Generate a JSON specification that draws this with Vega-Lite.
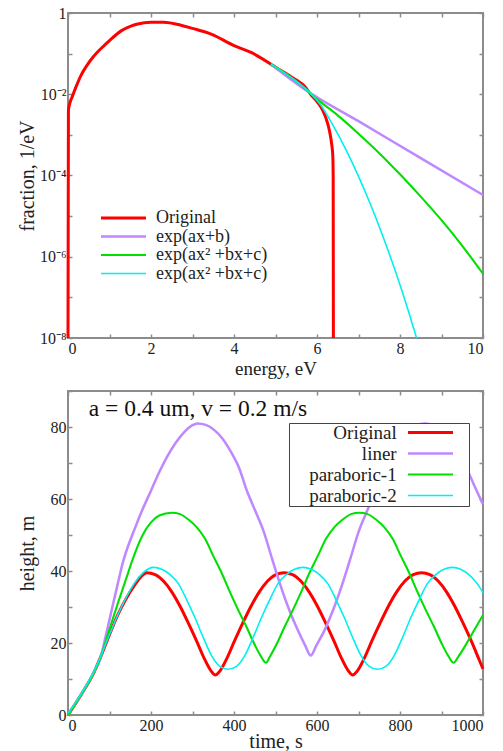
{
  "$schema": "https://vega.github.io/schema/vega-lite/v6.json",
  "padding": {"left": 16, "top": 4, "right": 5, "bottom": 5},
  "background": "white",
  "config": {
    "font": "Liberation Serif",
    "view": {"stroke": "#8c8c8c", "strokeWidth": 2},
    "axis": {
      "grid": false, "domain": false,
      "tickColor": "#8c8c8c", "tickSize": -4, "tickWidth": 1.5,
      "labelFont": "Liberation Serif", "labelFontSize": 16, "labelColor": "#222",
      "titleFont": "Liberation Serif", "titleFontSize": 20, "titleFontWeight": "normal", "titleColor": "#222",
      "labelPadding": 6
    },
    "legend": {"labelFont": "Liberation Serif", "labelColor": "#222"}
  },
  "datasets": {
    "top": [
      {"E": 0, "f": 1e-8, "s": "Original"},
      {"E": 0.01, "f": 0.00398, "s": "Original"},
      {"E": 0.05, "f": 0.00631, "s": "Original"},
      {"E": 0.11, "f": 0.00912, "s": "Original"},
      {"E": 0.2, "f": 0.0158, "s": "Original"},
      {"E": 0.31, "f": 0.0288, "s": "Original"},
      {"E": 0.45, "f": 0.0501, "s": "Original"},
      {"E": 0.6, "f": 0.0813, "s": "Original"},
      {"E": 0.87, "f": 0.158, "s": "Original"},
      {"E": 1.0, "f": 0.209, "s": "Original"},
      {"E": 1.28, "f": 0.363, "s": "Original"},
      {"E": 1.5, "f": 0.468, "s": "Original"},
      {"E": 1.68, "f": 0.537, "s": "Original"},
      {"E": 2.0, "f": 0.589, "s": "Original"},
      {"E": 2.3, "f": 0.589, "s": "Original"},
      {"E": 2.72, "f": 0.501, "s": "Original"},
      {"E": 3.0, "f": 0.417, "s": "Original"},
      {"E": 3.45, "f": 0.302, "s": "Original"},
      {"E": 4.0, "f": 0.158, "s": "Original"},
      {"E": 4.41, "f": 0.107, "s": "Original"},
      {"E": 4.89, "f": 0.055, "s": "Original"},
      {"E": 5.01, "f": 0.0457, "s": "Original"},
      {"E": 5.3, "f": 0.0302, "s": "Original"},
      {"E": 5.53, "f": 0.0214, "s": "Original"},
      {"E": 5.69, "f": 0.0162, "s": "Original"},
      {"E": 5.86, "f": 0.00955, "s": "Original"},
      {"E": 6.0, "f": 0.00661, "s": "Original"},
      {"E": 6.14, "f": 0.00398, "s": "Original"},
      {"E": 6.22, "f": 0.00251, "s": "Original"},
      {"E": 6.3, "f": 0.00126, "s": "Original"},
      {"E": 6.35, "f": 0.000631, "s": "Original"},
      {"E": 6.38, "f": 0.000316, "s": "Original"},
      {"E": 6.39, "f": 0.0001, "s": "Original"},
      {"E": 6.395, "f": 1e-8, "s": "Original"},
      {"E": 4.89, "f": 0.055, "s": "exp(ax+b)"},
      {"E": 5.69, "f": 0.0135, "s": "exp(ax+b)"},
      {"E": 7.0, "f": 0.00217, "s": "exp(ax+b)"},
      {"E": 8.5, "f": 0.000267, "s": "exp(ax+b)"},
      {"E": 10, "f": 3.31e-5, "s": "exp(ax+b)"},
      {"E": 4.89, "f": 0.055, "s": "exp(ax² +bx+c)"},
      {"E": 5.5, "f": 0.0209, "s": "exp(ax² +bx+c)"},
      {"E": 6.0, "f": 0.00759, "s": "exp(ax² +bx+c)"},
      {"E": 6.5, "f": 0.00302, "s": "exp(ax² +bx+c)"},
      {"E": 7.0, "f": 0.00107, "s": "exp(ax² +bx+c)"},
      {"E": 7.5, "f": 0.000355, "s": "exp(ax² +bx+c)"},
      {"E": 8.0, "f": 0.000107, "s": "exp(ax² +bx+c)"},
      {"E": 8.5, "f": 3.02e-5, "s": "exp(ax² +bx+c)"},
      {"E": 9.0, "f": 7.94e-6, "s": "exp(ax² +bx+c)"},
      {"E": 9.5, "f": 1.86e-6, "s": "exp(ax² +bx+c)"},
      {"E": 10, "f": 3.8e-7, "s": "exp(ax² +bx+c)"},
      {"E": 4.89, "f": 0.055, "s": "exp(ax² +bx+c) "},
      {"E": 5.5, "f": 0.0209, "s": "exp(ax² +bx+c) "},
      {"E": 5.8, "f": 0.0117, "s": "exp(ax² +bx+c) "},
      {"E": 6.1, "f": 0.00525, "s": "exp(ax² +bx+c) "},
      {"E": 6.4, "f": 0.00162, "s": "exp(ax² +bx+c) "},
      {"E": 6.7, "f": 0.000427, "s": "exp(ax² +bx+c) "},
      {"E": 7.0, "f": 9.55e-5, "s": "exp(ax² +bx+c) "},
      {"E": 7.3, "f": 1.82e-5, "s": "exp(ax² +bx+c) "},
      {"E": 7.6, "f": 2.95e-6, "s": "exp(ax² +bx+c) "},
      {"E": 7.9, "f": 4.07e-7, "s": "exp(ax² +bx+c) "},
      {"E": 8.2, "f": 4.68e-8, "s": "exp(ax² +bx+c) "},
      {"E": 8.4, "f": 1e-8, "s": "exp(ax² +bx+c) "}
    ],
    "bottom": [
      {"t": 0, "h": 0, "s": "Original"}, {"t": 20, "h": 3.5, "s": "Original"}, {"t": 40, "h": 7.2, "s": "Original"}, {"t": 60, "h": 11.2, "s": "Original"},
      {"t": 80, "h": 16.5, "s": "Original"}, {"t": 100, "h": 22.3, "s": "Original"}, {"t": 120, "h": 27.8, "s": "Original"}, {"t": 140, "h": 32.3, "s": "Original"},
      {"t": 160, "h": 36.0, "s": "Original"}, {"t": 175, "h": 38.3, "s": "Original"}, {"t": 190, "h": 39.5, "s": "Original"}, {"t": 210, "h": 39.0, "s": "Original"},
      {"t": 230, "h": 37.2, "s": "Original"}, {"t": 250, "h": 34.2, "s": "Original"}, {"t": 270, "h": 30.2, "s": "Original"}, {"t": 290, "h": 25.5, "s": "Original"},
      {"t": 310, "h": 20.5, "s": "Original"}, {"t": 330, "h": 15.3, "s": "Original"}, {"t": 345, "h": 12.2, "s": "Original"}, {"t": 355, "h": 11.1, "s": "Original"},
      {"t": 366, "h": 12.2, "s": "Original"}, {"t": 381, "h": 15.3, "s": "Original"}, {"t": 401, "h": 20.5, "s": "Original"}, {"t": 421, "h": 25.5, "s": "Original"},
      {"t": 441, "h": 30.2, "s": "Original"}, {"t": 461, "h": 34.2, "s": "Original"}, {"t": 481, "h": 37.2, "s": "Original"}, {"t": 501, "h": 39.0, "s": "Original"},
      {"t": 521, "h": 39.5, "s": "Original"}, {"t": 541, "h": 39.0, "s": "Original"}, {"t": 561, "h": 37.2, "s": "Original"}, {"t": 581, "h": 34.2, "s": "Original"},
      {"t": 601, "h": 30.2, "s": "Original"}, {"t": 621, "h": 25.5, "s": "Original"}, {"t": 641, "h": 20.5, "s": "Original"}, {"t": 661, "h": 15.3, "s": "Original"},
      {"t": 676, "h": 12.2, "s": "Original"}, {"t": 686, "h": 11.1, "s": "Original"}, {"t": 697, "h": 12.2, "s": "Original"}, {"t": 712, "h": 15.3, "s": "Original"},
      {"t": 732, "h": 20.5, "s": "Original"}, {"t": 752, "h": 25.5, "s": "Original"}, {"t": 772, "h": 30.2, "s": "Original"}, {"t": 792, "h": 34.2, "s": "Original"},
      {"t": 812, "h": 37.2, "s": "Original"}, {"t": 832, "h": 39.0, "s": "Original"}, {"t": 852, "h": 39.5, "s": "Original"}, {"t": 872, "h": 39.0, "s": "Original"},
      {"t": 892, "h": 37.2, "s": "Original"}, {"t": 912, "h": 34.2, "s": "Original"}, {"t": 932, "h": 30.2, "s": "Original"}, {"t": 952, "h": 25.5, "s": "Original"},
      {"t": 972, "h": 20.5, "s": "Original"}, {"t": 992, "h": 15.0, "s": "Original"}, {"t": 1000, "h": 12.8, "s": "Original"},

      {"t": 0, "h": 0, "s": "liner"}, {"t": 20, "h": 3.5, "s": "liner"}, {"t": 40, "h": 7.2, "s": "liner"}, {"t": 60, "h": 11.3, "s": "liner"},
      {"t": 80, "h": 16.5, "s": "liner"}, {"t": 88, "h": 20.5, "s": "liner"}, {"t": 100, "h": 26.5, "s": "liner"}, {"t": 120, "h": 36.5, "s": "liner"},
      {"t": 132, "h": 42.3, "s": "liner"}, {"t": 140, "h": 45.3, "s": "liner"}, {"t": 160, "h": 51.5, "s": "liner"}, {"t": 180, "h": 57.2, "s": "liner"},
      {"t": 200, "h": 62.3, "s": "liner"}, {"t": 220, "h": 67.5, "s": "liner"}, {"t": 240, "h": 72.0, "s": "liner"}, {"t": 260, "h": 75.7, "s": "liner"},
      {"t": 280, "h": 78.6, "s": "liner"}, {"t": 300, "h": 80.5, "s": "liner"}, {"t": 312, "h": 81.0, "s": "liner"}, {"t": 332, "h": 80.6, "s": "liner"},
      {"t": 352, "h": 79.2, "s": "liner"}, {"t": 372, "h": 76.8, "s": "liner"}, {"t": 392, "h": 73.2, "s": "liner"}, {"t": 412, "h": 68.7, "s": "liner"},
      {"t": 432, "h": 62.0, "s": "liner"}, {"t": 452, "h": 56.5, "s": "liner"}, {"t": 472, "h": 50.8, "s": "liner"}, {"t": 492, "h": 43.3, "s": "liner"},
      {"t": 512, "h": 36.0, "s": "liner"}, {"t": 532, "h": 29.5, "s": "liner"}, {"t": 552, "h": 24.0, "s": "liner"}, {"t": 572, "h": 19.2, "s": "liner"},
      {"t": 585, "h": 16.5, "s": "liner"}, {"t": 598, "h": 19.2, "s": "liner"}, {"t": 620, "h": 24.0, "s": "liner"}, {"t": 640, "h": 29.5, "s": "liner"},
      {"t": 660, "h": 36.0, "s": "liner"}, {"t": 680, "h": 43.3, "s": "liner"}, {"t": 700, "h": 50.8, "s": "liner"}, {"t": 720, "h": 56.5, "s": "liner"},
      {"t": 740, "h": 62.0, "s": "liner"}, {"t": 760, "h": 68.7, "s": "liner"}, {"t": 780, "h": 73.2, "s": "liner"}, {"t": 800, "h": 76.8, "s": "liner"},
      {"t": 820, "h": 79.2, "s": "liner"}, {"t": 840, "h": 80.6, "s": "liner"}, {"t": 860, "h": 81.0, "s": "liner"}, {"t": 880, "h": 80.6, "s": "liner"},
      {"t": 900, "h": 79.2, "s": "liner"}, {"t": 920, "h": 76.8, "s": "liner"}, {"t": 940, "h": 73.2, "s": "liner"}, {"t": 960, "h": 68.7, "s": "liner"},
      {"t": 980, "h": 63.5, "s": "liner"}, {"t": 1000, "h": 58.5, "s": "liner"},

      {"t": 0, "h": 0, "s": "paraboric-1"}, {"t": 20, "h": 3.5, "s": "paraboric-1"}, {"t": 40, "h": 7.2, "s": "paraboric-1"}, {"t": 60, "h": 11.3, "s": "paraboric-1"},
      {"t": 80, "h": 16.5, "s": "paraboric-1"}, {"t": 95, "h": 22.0, "s": "paraboric-1"}, {"t": 120, "h": 31.0, "s": "paraboric-1"}, {"t": 140, "h": 37.8, "s": "paraboric-1"},
      {"t": 156, "h": 43.3, "s": "paraboric-1"}, {"t": 180, "h": 50.0, "s": "paraboric-1"}, {"t": 200, "h": 53.5, "s": "paraboric-1"}, {"t": 220, "h": 55.4, "s": "paraboric-1"},
      {"t": 250, "h": 56.2, "s": "paraboric-1"}, {"t": 270, "h": 55.8, "s": "paraboric-1"}, {"t": 290, "h": 54.3, "s": "paraboric-1"}, {"t": 310, "h": 52.2, "s": "paraboric-1"},
      {"t": 330, "h": 49.0, "s": "paraboric-1"}, {"t": 350, "h": 44.2, "s": "paraboric-1"}, {"t": 370, "h": 39.5, "s": "paraboric-1"}, {"t": 390, "h": 34.2, "s": "paraboric-1"},
      {"t": 410, "h": 29.2, "s": "paraboric-1"}, {"t": 430, "h": 24.5, "s": "paraboric-1"}, {"t": 450, "h": 19.5, "s": "paraboric-1"}, {"t": 465, "h": 16.3, "s": "paraboric-1"},
      {"t": 477, "h": 14.5, "s": "paraboric-1"}, {"t": 487, "h": 16.3, "s": "paraboric-1"}, {"t": 502, "h": 19.5, "s": "paraboric-1"}, {"t": 522, "h": 24.5, "s": "paraboric-1"},
      {"t": 542, "h": 29.2, "s": "paraboric-1"}, {"t": 562, "h": 34.2, "s": "paraboric-1"}, {"t": 582, "h": 39.5, "s": "paraboric-1"}, {"t": 602, "h": 44.2, "s": "paraboric-1"},
      {"t": 622, "h": 49.0, "s": "paraboric-1"}, {"t": 642, "h": 52.2, "s": "paraboric-1"}, {"t": 662, "h": 54.3, "s": "paraboric-1"}, {"t": 682, "h": 55.8, "s": "paraboric-1"},
      {"t": 702, "h": 56.2, "s": "paraboric-1"}, {"t": 722, "h": 55.8, "s": "paraboric-1"}, {"t": 742, "h": 54.3, "s": "paraboric-1"}, {"t": 762, "h": 52.2, "s": "paraboric-1"},
      {"t": 782, "h": 49.0, "s": "paraboric-1"}, {"t": 802, "h": 44.2, "s": "paraboric-1"}, {"t": 822, "h": 39.5, "s": "paraboric-1"}, {"t": 842, "h": 34.2, "s": "paraboric-1"},
      {"t": 862, "h": 29.2, "s": "paraboric-1"}, {"t": 882, "h": 24.5, "s": "paraboric-1"}, {"t": 902, "h": 19.5, "s": "paraboric-1"}, {"t": 917, "h": 16.3, "s": "paraboric-1"},
      {"t": 929, "h": 14.5, "s": "paraboric-1"}, {"t": 941, "h": 16.3, "s": "paraboric-1"}, {"t": 956, "h": 19.0, "s": "paraboric-1"}, {"t": 976, "h": 23.0, "s": "paraboric-1"},
      {"t": 1000, "h": 27.8, "s": "paraboric-1"},

      {"t": 0, "h": 0.5, "s": "paraboric-2"}, {"t": 20, "h": 3.8, "s": "paraboric-2"}, {"t": 40, "h": 7.5, "s": "paraboric-2"}, {"t": 60, "h": 11.5, "s": "paraboric-2"},
      {"t": 80, "h": 16.7, "s": "paraboric-2"}, {"t": 100, "h": 22.3, "s": "paraboric-2"}, {"t": 120, "h": 27.8, "s": "paraboric-2"}, {"t": 140, "h": 32.6, "s": "paraboric-2"},
      {"t": 160, "h": 36.6, "s": "paraboric-2"}, {"t": 180, "h": 39.4, "s": "paraboric-2"}, {"t": 206, "h": 41.0, "s": "paraboric-2"}, {"t": 226, "h": 40.5, "s": "paraboric-2"},
      {"t": 246, "h": 39.0, "s": "paraboric-2"}, {"t": 266, "h": 36.5, "s": "paraboric-2"}, {"t": 286, "h": 32.0, "s": "paraboric-2"}, {"t": 306, "h": 27.0, "s": "paraboric-2"},
      {"t": 326, "h": 21.5, "s": "paraboric-2"}, {"t": 346, "h": 16.5, "s": "paraboric-2"}, {"t": 366, "h": 13.5, "s": "paraboric-2"}, {"t": 386, "h": 12.7, "s": "paraboric-2"},
      {"t": 406, "h": 13.5, "s": "paraboric-2"}, {"t": 426, "h": 16.5, "s": "paraboric-2"}, {"t": 446, "h": 21.5, "s": "paraboric-2"}, {"t": 466, "h": 27.0, "s": "paraboric-2"},
      {"t": 486, "h": 32.0, "s": "paraboric-2"}, {"t": 506, "h": 36.5, "s": "paraboric-2"}, {"t": 526, "h": 39.0, "s": "paraboric-2"}, {"t": 546, "h": 40.5, "s": "paraboric-2"},
      {"t": 566, "h": 41.0, "s": "paraboric-2"}, {"t": 586, "h": 40.5, "s": "paraboric-2"}, {"t": 606, "h": 39.0, "s": "paraboric-2"}, {"t": 626, "h": 36.5, "s": "paraboric-2"},
      {"t": 646, "h": 32.0, "s": "paraboric-2"}, {"t": 666, "h": 27.0, "s": "paraboric-2"}, {"t": 686, "h": 21.5, "s": "paraboric-2"}, {"t": 706, "h": 16.5, "s": "paraboric-2"},
      {"t": 726, "h": 13.5, "s": "paraboric-2"}, {"t": 746, "h": 12.7, "s": "paraboric-2"}, {"t": 766, "h": 13.5, "s": "paraboric-2"}, {"t": 786, "h": 16.5, "s": "paraboric-2"},
      {"t": 806, "h": 21.5, "s": "paraboric-2"}, {"t": 826, "h": 27.0, "s": "paraboric-2"}, {"t": 846, "h": 32.0, "s": "paraboric-2"}, {"t": 866, "h": 36.5, "s": "paraboric-2"},
      {"t": 886, "h": 39.0, "s": "paraboric-2"}, {"t": 906, "h": 40.5, "s": "paraboric-2"}, {"t": 926, "h": 41.0, "s": "paraboric-2"}, {"t": 946, "h": 40.5, "s": "paraboric-2"},
      {"t": 966, "h": 39.0, "s": "paraboric-2"}, {"t": 986, "h": 36.5, "s": "paraboric-2"}, {"t": 1000, "h": 34.0, "s": "paraboric-2"}
    ]
  },
  "bounds": "flush",
  "spacing": 53,
  "resolve": {"scale": {"color": "independent", "strokeWidth": "independent"}, "legend": {"color": "independent"}},
  "vconcat": [
    {
      "width": 415, "height": 325,
      "data": {"name": "top"},
      "resolve": {"axis": {"x": "independent", "y": "independent"}},
      "layer": [
        {
          "mark": {"type": "line", "interpolate": "monotone"},
          "encoding": {
            "x": {"field": "E", "type": "quantitative", "scale": {"domain": [0, 10], "nice": false},
                  "axis": {"orient": "bottom", "values": [0,1,2,3,4,5,6,7,8,9,10], "labelExpr": "datum.value % 2 == 0 ? datum.label : ''", "title": "energy, eV", "titleFontSize": 19, "titleY": 36, "titleBaseline": "alphabetic"}},
            "y": {"field": "f", "type": "quantitative", "scale": {"type": "log", "domain": [1e-8, 1], "nice": false},
                  "axis": {"orient": "left", "values": [1e-8,1e-7,1e-6,1e-5,1e-4,1e-3,1e-2,1e-1,1],
                           "labelExpr": "round(log(datum.value)/LN10) == 0 ? '1' : round(log(datum.value)/LN10) == -2 ? '10⁻²' : round(log(datum.value)/LN10) == -4 ? '10⁻⁴' : round(log(datum.value)/LN10) == -6 ? '10⁻⁶' : round(log(datum.value)/LN10) == -8 ? '10⁻⁸' : ''",
                           "title": "fraction, 1/eV", "titleX": -41, "titleBaseline": "middle"}},
            "color": {"field": "s", "type": "nominal",
                      "scale": {"domain": ["Original", "exp(ax+b)", "exp(ax² +bx+c)", "exp(ax² +bx+c) "], "range": ["#ff0000", "#bf88ff", "#00e000", "#00f0f0"]},
                      "legend": {"orient": "none", "legendX": 33, "legendY": 196, "title": null, "symbolType": "M-3,0H3", "symbolSize": 225, "symbolStrokeWidth": 2.5, "labelFontSize": 18, "rowPadding": 0.5, "padding": 0,
                                 "encoding": {"labels": {"x": {"value": 55}}, "symbols": {"x": {"value": 22.5}}}}},
            "strokeWidth": {"field": "s", "type": "nominal", "scale": {"domain": ["Original", "exp(ax+b)", "exp(ax² +bx+c)", "exp(ax² +bx+c) "], "range": [3, 1.6, 1.6, 1.6]}, "legend": null}
          }
        },
        {
          "mark": {"type": "point", "opacity": 0},
          "encoding": {
            "x": {"field": "E", "type": "quantitative", "axis": {"orient": "top", "values": [0,1,2,3,4,5,6,7,8,9,10], "labels": false, "title": null}},
            "y": {"field": "f", "type": "quantitative", "axis": {"orient": "right", "values": [1e-8,1e-7,1e-6,1e-5,1e-4,1e-3,1e-2,1e-1,1], "labels": false, "title": null}}
          }
        }
      ]
    },
    {
      "width": 415, "height": 324,
      "resolve": {"axis": {"x": "independent", "y": "independent"}},
      "layer": [
        {
          "data": {"name": "bottom"},
          "mark": {"type": "line", "interpolate": "monotone"},
          "encoding": {
            "x": {"field": "t", "type": "quantitative", "scale": {"domain": [0, 1000], "nice": false},
                  "axis": {"orient": "bottom", "values": [0,100,200,300,400,500,600,700,800,900,1000], "format": "d", "labelExpr": "datum.value % 200 == 0 ? datum.label : ''", "title": "time, s", "titleY": 32, "titleBaseline": "alphabetic"}},
            "y": {"field": "h", "type": "quantitative", "scale": {"domain": [0, 90], "nice": false},
                  "axis": {"orient": "left", "values": [0,10,20,30,40,50,60,70,80,90], "labelExpr": "datum.value % 20 == 0 ? datum.label : ''", "title": "height, m", "titleX": -41, "titleBaseline": "middle"}},
            "color": {"field": "s", "type": "nominal",
                      "scale": {"domain": ["Original", "liner", "paraboric-1", "paraboric-2"], "range": ["#ff0000", "#bf88ff", "#00e000", "#00f0f0"]},
                      "legend": {"orient": "none", "legendX": 221, "legendY": 32, "title": null, "symbolType": "M-18.87,0M-3,0H3M4.33,0", "symbolSize": 225, "symbolStrokeWidth": 2.5, "labelFontSize": 19, "labelAlign": "right", "rowPadding": 1, "padding": 0, "strokeColor": "#444", "fillColor": "white",
                                 "encoding": {"labels": {"x": {"value": 107.7}}, "symbols": {"x": {"value": 141.5}}}}},
            "strokeWidth": {"field": "s", "type": "nominal", "scale": {"domain": ["Original", "liner", "paraboric-1", "paraboric-2"], "range": [3, 1.6, 1.6, 1.6]}, "legend": null}
          }
        },
        {
          "data": {"name": "bottom"},
          "mark": {"type": "point", "opacity": 0},
          "encoding": {
            "x": {"field": "t", "type": "quantitative", "axis": {"orient": "top", "values": [0,100,200,300,400,500,600,700,800,900,1000], "labels": false, "title": null}},
            "y": {"field": "h", "type": "quantitative", "axis": {"orient": "right", "values": [0,10,20,30,40,50,60,70,80,90], "labels": false, "title": null}}
          }
        },
        {
          "data": {"values": [{"note": "a = 0.4 um, v = 0.2 m/s"}]},
          "mark": {"type": "text", "align": "left", "baseline": "alphabetic", "fontSize": 23.5, "font": "Liberation Serif", "color": "#111"},
          "encoding": {
            "x": {"datum": 50, "axis": null},
            "y": {"datum": 83.05, "axis": null},
            "text": {"field": "note"}
          }
        }
      ]
    }
  ]
}
